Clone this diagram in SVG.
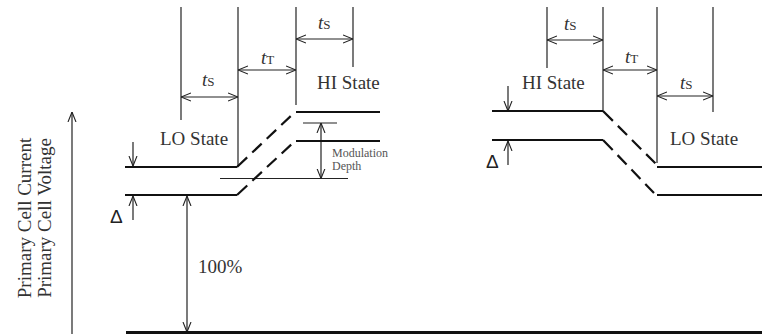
<svg xmlns="http://www.w3.org/2000/svg" width="762" height="334" viewBox="0 0 762 334">
<defs>
<marker id="ah" viewBox="0 0 10 10" refX="10" refY="5" markerWidth="10" markerHeight="10" markerUnits="userSpaceOnUse" orient="auto-start-reverse">
<path d="M0,1 L10,5 L0,9" fill="none" stroke="#222" stroke-width="1.1"/>
</marker>
<style>
.thin{stroke:#222;stroke-width:1.2;fill:none}
.dim{stroke:#222;stroke-width:1.2;fill:none;marker-start:url(#ah);marker-end:url(#ah)}
.one{stroke:#222;stroke-width:1.2;fill:none;marker-end:url(#ah)}
.lvl{stroke:#111;stroke-width:2.2;fill:none}
.dash{stroke:#111;stroke-width:2.2;fill:none;stroke-dasharray:14 7 13 7 13 7 13 7}
.lbl{font-family:"Liberation Serif",serif;font-size:19px;fill:#333}
.sym{font-family:"Liberation Serif",serif;font-size:19px;font-style:italic;fill:#333}
.sub{font-size:13px;font-style:normal}
.sm{font-family:"Liberation Serif",serif;font-size:12px;fill:#555}
.delta{font-family:"Liberation Sans",sans-serif;font-size:19px;fill:#222}
</style>
</defs>
<g id="connectors">
<line class="thin" x1="181" y1="7" x2="181" y2="120"/>
<line class="thin" x1="238" y1="7" x2="238" y2="166"/>
<line class="thin" x1="296" y1="7" x2="296" y2="105"/>
<line class="thin" x1="353" y1="7" x2="353" y2="67"/>
<line class="dim" x1="181" y1="97" x2="238" y2="97"/>
<line class="dim" x1="238" y1="70" x2="296" y2="70"/>
<line class="dim" x1="296" y1="39" x2="353" y2="39"/>
<line class="thin" x1="547" y1="7" x2="547" y2="68"/>
<line class="thin" x1="603" y1="7" x2="603" y2="111"/>
<line class="thin" x1="657" y1="7" x2="657" y2="163"/>
<line class="thin" x1="713" y1="7" x2="713" y2="112"/>
<line class="dim" x1="547" y1="40" x2="603" y2="40"/>
<line class="dim" x1="603" y1="70" x2="657" y2="70"/>
<line class="dim" x1="657" y1="96" x2="713" y2="96"/>
<line class="one" x1="72" y1="334" x2="72" y2="112"/>
<line class="one" x1="133" y1="142" x2="133" y2="166"/>
<line class="one" x1="133" y1="220" x2="133" y2="196"/>
<line class="dim" x1="187" y1="196" x2="187" y2="332"/>
<line class="one" x1="508" y1="86" x2="508" y2="111"/>
<line class="one" x1="508" y1="165" x2="508" y2="141"/>
<line class="thin" x1="303" y1="123" x2="337" y2="123"/>
<line class="thin" x1="220" y1="178.5" x2="348" y2="178.5"/>
<line class="dim" x1="321" y1="123" x2="321" y2="178.5"/>
</g>
<g id="left-levels">
<polyline class="lvl" points="125,167 237,167"/>
<polyline class="lvl" points="125,195 237,195"/>
<line class="dash" x1="237" y1="167" x2="295" y2="112"/>
<line class="dash" x1="237" y1="195" x2="295" y2="141"/>
<line class="lvl" x1="296" y1="112" x2="380" y2="112"/>
<line class="lvl" x1="296" y1="141" x2="380" y2="141"/>
<line class="lvl" x1="126" y1="332.5" x2="762" y2="332.5" style="stroke-width:3"/>
</g>
<g id="right-levels">
<line class="lvl" x1="492" y1="111" x2="603" y2="111"/>
<line class="lvl" x1="492" y1="140" x2="603" y2="140"/>
<line class="dash" x1="603" y1="111" x2="656" y2="164"/>
<line class="dash" x1="603" y1="140" x2="654" y2="193"/>
<line class="lvl" x1="657" y1="167" x2="762" y2="167"/>
<line class="lvl" x1="657" y1="195" x2="762" y2="195"/>
</g>
<g id="labels">
<text class="sym" x="202" y="86">t<tspan class="sub">S</tspan></text>
<text class="sym" x="261" y="64">t<tspan class="sub">T</tspan></text>
<text class="sym" x="318" y="29">t<tspan class="sub">S</tspan></text>
<text class="lbl" x="317" y="89">HI State</text>
<text class="lbl" x="160" y="145">LO State</text>
<text class="sm" x="332" y="157">Modulation</text>
<text class="sm" x="332" y="170">Depth</text>
<text class="lbl" x="198" y="273">100%</text>
<text class="delta" x="110" y="223">Δ</text>
<text class="sym" x="564" y="30">t<tspan class="sub">S</tspan></text>
<text class="sym" x="625" y="63">t<tspan class="sub">T</tspan></text>
<text class="sym" x="680" y="89">t<tspan class="sub">S</tspan></text>
<text class="lbl" x="522" y="89">HI State</text>
<text class="lbl" x="670" y="145">LO State</text>
<text class="delta" x="486" y="168">Δ</text>
<text class="lbl" transform="translate(31,218) rotate(-90)" text-anchor="middle">Primary Cell Current</text>
<text class="lbl" transform="translate(51,218) rotate(-90)" text-anchor="middle">Primary Cell Voltage</text>
</g>
</svg>
